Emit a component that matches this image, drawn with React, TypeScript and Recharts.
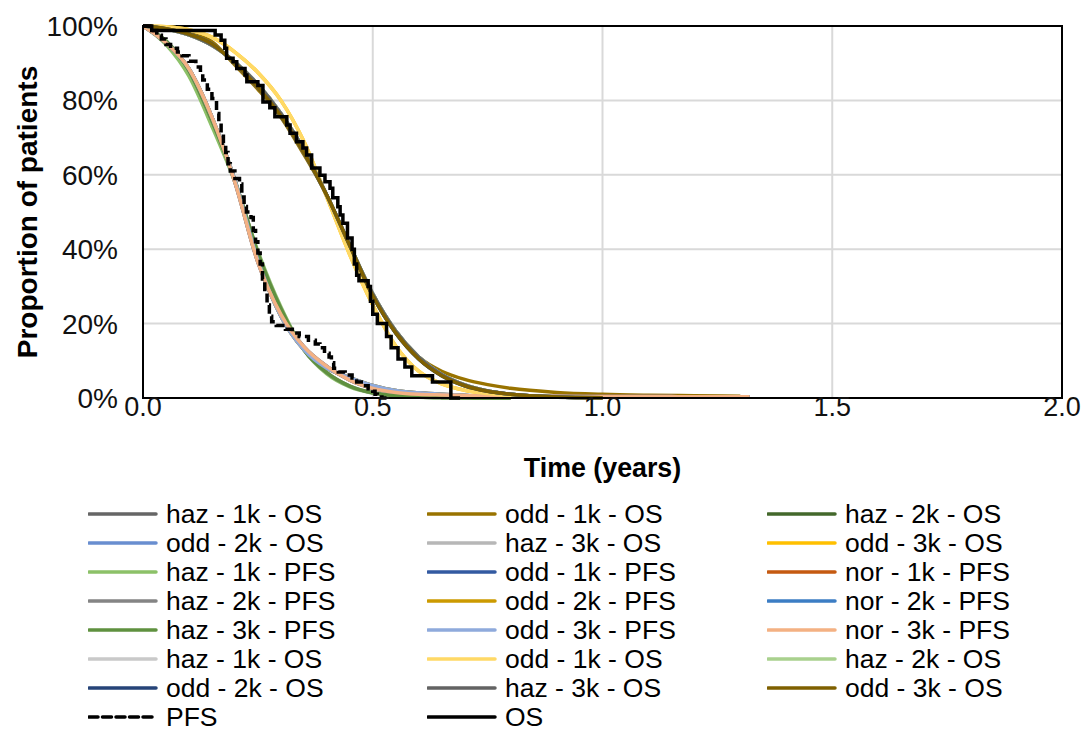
import { LineChart, Line, XAxis, YAxis, CartesianGrid, ReferenceArea } from "recharts";

// time grid (years) shared by the fitted curves
const T_FIT = [0, 0.05, 0.1, 0.15, 0.2, 0.25, 0.3, 0.35, 0.4, 0.45, 0.5, 0.55, 0.6, 0.65, 0.7, 0.75, 0.8, 0.9, 1.0, 1.1, 1.2, 1.3, 1.32];

// fitted OS curves (% alive)
const OS_HAZ = [100, 99.2, 97.6, 94.8, 90.3, 84.3, 76.5, 66.8, 54.5, 41, 28, 18, 11, 6.3, 3.5, 1.9, 1.0, 0.3, 0.1];
const OS_MID = [100, 99.3, 97.8, 95.2, 90, 83.5, 75.8, 66, 54.5, 41, 27.5, 17.5, 10.5, 6, 3.3, 1.8, 1, 0.3, 0.1];
const OS_ODD_TAIL = [100, 99.4, 98, 95.8, 89.5, 83, 75.5, 65.5, 54.5, 41, 27.5, 17.5, 11, 7.2, 5, 3.6, 2.6, 1.5, 1.0, 0.75, 0.6, 0.5];
const OS_YELLOW = [100, 99.8, 99, 97, 93, 87.5, 80, 69, 54, 38.5, 25, 14, 7.2, 3.8, 2.1, 1.2, 0.6, 0.2];

// fitted PFS curves (% progression-free)
const PFS_HAZ_1K = [100, 95, 86.5, 73, 58, 39.5, 24.5, 13, 6.5, 3, 1.3, 0.5, 0.2, 0.08, 0.03, 0.01, 0];
const PFS_HAZ = [100, 96, 88, 74.5, 58.5, 39, 24, 13, 6.8, 3.2, 1.4, 0.6, 0.25, 0.1, 0.04, 0.02, 0];
const PFS_ODD = [100, 95.5, 88.5, 75.5, 58.5, 37, 22, 13, 8, 5.5, 3.4, 2.0, 1.4, 1.0, 0.7, 0.5, 0.35, 0.2, 0.1];
const PFS_NOR = [100, 95.5, 88.5, 75.5, 58, 36.5, 22.5, 13.8, 8.5, 4.8, 2.6, 1.5, 1.0, 0.8, 0.65, 0.55, 0.5, 0.45, 0.4, 0.4, 0.35, 0.35, 0.35];

// Kaplan-Meier PFS
const PFS_KM_T = [0, 0.015, 0.03, 0.04, 0.05, 0.06, 0.075, 0.085, 0.1, 0.115, 0.125, 0.13, 0.14, 0.15, 0.16, 0.165, 0.17, 0.175, 0.18, 0.185, 0.19, 0.2, 0.21, 0.215, 0.22, 0.225, 0.235, 0.24, 0.245, 0.25, 0.255, 0.26, 0.265, 0.27, 0.275, 0.28, 0.29, 0.31, 0.325, 0.34, 0.36, 0.375, 0.385, 0.395, 0.405, 0.41, 0.415, 0.425, 0.44, 0.455, 0.465, 0.48, 0.49, 0.5, 0.505, 0.51, 0.52, 0.53];
const PFS_KM_V = [100, 98.8, 97.5, 96.5, 95, 94, 93, 92, 90.5, 89, 87.5, 85.5, 83, 80.5, 76.5, 74, 71, 68.5, 66, 63, 61, 59, 57.5, 54, 51.5, 50, 48.5, 45, 42, 39, 36, 32, 28.5, 25, 22, 20.5, 19.5, 18.5, 17.5, 16.5, 15.5, 14.5, 13.5, 12, 11, 9.5, 8, 7, 6.2, 5.4, 4.3, 3.3, 2.5, 1.8, 1, 0.3, 0, 0];

// Kaplan-Meier OS
const OS_KM_T = [0, 0.019, 0.157, 0.17, 0.178, 0.182, 0.196, 0.204, 0.222, 0.226, 0.25, 0.261, 0.276, 0.287, 0.313, 0.32, 0.334, 0.348, 0.356, 0.367, 0.385, 0.396, 0.407, 0.413, 0.424, 0.429, 0.435, 0.445, 0.455, 0.46, 0.465, 0.47, 0.49, 0.495, 0.5, 0.51, 0.53, 0.54, 0.555, 0.57, 0.585, 0.63, 0.67, 0.69];
const OS_KM_V = [100, 98.8, 97.6, 96.2, 94, 91.3, 90.4, 88.6, 86.8, 85, 84, 79.6, 78, 75.6, 73.4, 71.2, 68.9, 67.2, 65.3, 61.8, 59.9, 58.1, 56.4, 53.8, 51.4, 49.2, 47, 43, 40, 36, 33, 31.5, 30, 26, 22.5, 20, 16.5, 13.5, 10.5, 8.3, 6, 4.3, 0, 0];

const X_TICKS = [0, 0.5, 1, 1.5, 2];
const Y_TICKS = [0, 20, 40, 60, 80, 100];

const FIT_SERIES = [
  { name: "haz - 1k - OS", color: "#666666", values: OS_HAZ },
  { name: "odd - 1k - OS", color: "#997300", values: OS_ODD_TAIL },
  { name: "haz - 2k - OS", color: "#43682B", values: OS_HAZ },
  { name: "odd - 2k - OS", color: "#698ED0", values: OS_MID },
  { name: "haz - 3k - OS", color: "#B7B7B7", values: OS_HAZ },
  { name: "odd - 3k - OS", color: "#FFC000", values: OS_YELLOW },
  { name: "haz - 1k - PFS", color: "#8CC168", values: PFS_HAZ_1K },
  { name: "odd - 1k - PFS", color: "#335AA1", values: PFS_ODD },
  { name: "nor - 1k - PFS", color: "#C55A11", values: PFS_NOR },
  { name: "haz - 2k - PFS", color: "#848484", values: PFS_HAZ },
  { name: "odd - 2k - PFS", color: "#CC9A00", values: PFS_ODD },
  { name: "nor - 2k - PFS", color: "#3C7DC4", values: PFS_NOR },
  { name: "haz - 3k - PFS", color: "#5F913F", values: PFS_HAZ },
  { name: "odd - 3k - PFS", color: "#8FAADC", values: PFS_ODD },
  { name: "nor - 3k - PFS", color: "#F4B183", values: PFS_NOR },
  { name: "haz - 1k - OS", color: "#C9C9C9", values: OS_HAZ },
  { name: "odd - 1k - OS", color: "#FFD966", values: OS_YELLOW },
  { name: "haz - 2k - OS", color: "#A9D18E", values: OS_HAZ },
  { name: "odd - 2k - OS", color: "#264478", values: OS_MID },
  { name: "haz - 3k - OS", color: "#636363", values: OS_HAZ },
  { name: "odd - 3k - OS", color: "#7F6000", values: OS_MID },
];

const FONT = "'Liberation Sans', Arial, sans-serif";

const fitData = (values: number[]) => values.map((v, i) => ({ t: T_FIT[i], v }));
const kmData = (ts: number[], vs: number[]) => ts.map((t, i) => ({ t, v: vs[i] }));

const LEGEND_COL_X = [88, 427, 767];
const LEGEND_TOP = 514;
const LEGEND_ROW_H = 29;

function LegendItem({ name, color, dashed, idx }: { name: string; color: string; dashed?: boolean; idx: number }) {
  const col = idx % 3;
  const row = Math.floor(idx / 3);
  return (
    <div
      style={{
        position: "absolute",
        left: LEGEND_COL_X[col],
        top: LEGEND_TOP + row * LEGEND_ROW_H - 14,
        height: 28,
        display: "flex",
        alignItems: "center",
        whiteSpace: "nowrap",
      }}
    >
      <svg width={70} height={10} style={{ marginRight: 8 }}>
        <line
          x1={1}
          x2={68}
          y1={5}
          y2={5}
          stroke={color}
          strokeWidth={3.5}
          strokeLinecap="round"
          strokeDasharray={dashed ? "9 4.5" : undefined}
        />
      </svg>
      <span style={{ fontSize: 26.5, color: "#000", lineHeight: "28px" }}>{name}</span>
    </div>
  );
}

export default function App() {
  return (
    <div style={{ position: "absolute", left: 0, top: 0, width: 1083, height: 729, background: "#fff", fontFamily: FONT, overflow: "hidden" }}>
      <LineChart width={1083} height={490} margin={{ top: 26, right: 21, left: 0, bottom: 0 }}>
        <CartesianGrid stroke="#D9D9D9" strokeWidth={2} />
        <XAxis
          type="number"
          dataKey="t"
          domain={[0, 2]}
          ticks={X_TICKS}
          tickFormatter={(v: number) => v.toFixed(1)}
          tick={{ fontSize: 27, fill: "#111", fontFamily: FONT }}
          tickLine={false}
          tickSize={0}
          tickMargin={-1}
          axisLine={{ stroke: "#000", strokeWidth: 2 }}
          height={92}
          label={{ value: "Time (years)", position: "insideBottom", offset: 13, style: { fontSize: 26.8, fontWeight: "bold", fill: "#000", fontFamily: FONT } }}
        />
        <YAxis
          type="number"
          domain={[0, 100]}
          ticks={Y_TICKS}
          tickFormatter={(v: number) => `${v}%`}
          tick={{ fontSize: 28, fill: "#111", fontFamily: FONT }}
          tickLine={false}
          tickSize={0}
          tickMargin={25}
          axisLine={{ stroke: "#000", strokeWidth: 2 }}
          width={143}
          label={{ value: "Proportion of patients", angle: -90, position: "insideLeft", offset: 27, style: { textAnchor: "middle", fontSize: 28, fontWeight: "bold", fill: "#000", fontFamily: FONT } }}
        />
        <ReferenceArea x1={0} x2={2} y1={0} y2={100} fill="none" stroke="#000" strokeWidth={2} />
        {FIT_SERIES.map((s, i) => (
          <Line
            key={i}
            data={fitData(s.values)}
            dataKey="v"
            type="monotone"
            stroke={s.color}
            strokeWidth={3.5}
            dot={false}
            isAnimationActive={false}
          />
        ))}
        <Line
          data={kmData(PFS_KM_T, PFS_KM_V)}
          dataKey="v"
          type="stepAfter"
          stroke="#000"
          strokeWidth={3.5}
          strokeDasharray="9 4.5"
          dot={false}
          isAnimationActive={false}
        />
        <Line
          data={kmData(OS_KM_T, OS_KM_V)}
          dataKey="v"
          type="stepAfter"
          stroke="#000"
          strokeWidth={3.5}
          dot={false}
          isAnimationActive={false}
        />
      </LineChart>
      {FIT_SERIES.map((s, i) => (
        <LegendItem key={i} idx={i} name={s.name} color={s.color} />
      ))}
      <LegendItem idx={21} name="PFS" color="#000" dashed />
      <LegendItem idx={22} name="OS" color="#000" />
    </div>
  );
}
